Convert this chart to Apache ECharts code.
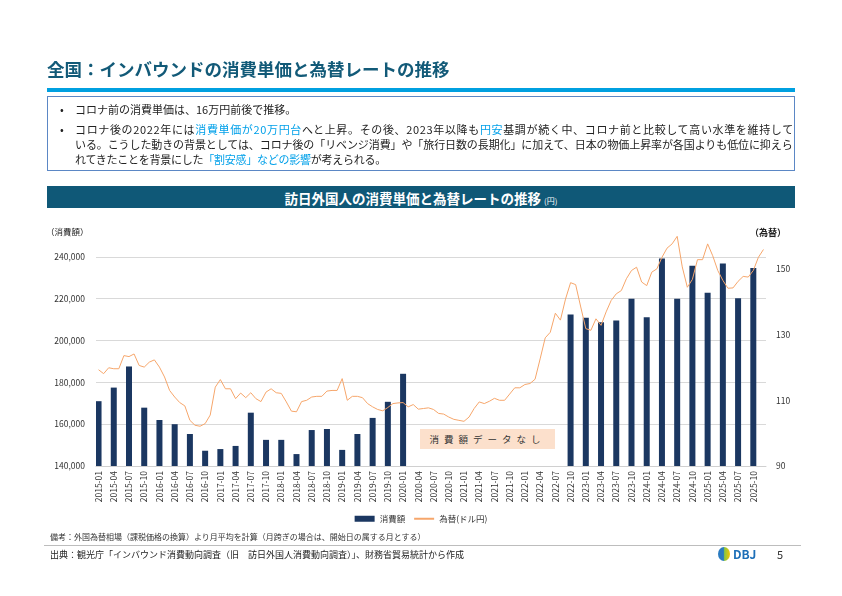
<!DOCTYPE html>
<html>
<head>
<meta charset="utf-8">
<script src="https://cdn.jsdelivr.net/npm/echarts@6/dist/echarts.min.js"></script>
<style>
  body { margin: 0; background: #fff; font-family: "Noto Sans CJK JP", sans-serif; color: #222; }
  #page { position: relative; width: 842px; height: 596px; overflow: hidden; }
  #main { position: absolute; left: 0; top: 0; width: 842px; height: 596px; }
  .abs { position: absolute; white-space: nowrap; }
  .hl { color: #00a0e9; }
</style>
</head>
<body>
<div id="page">
  <div id="main"></div>

  <div class="abs" style="left:47px;top:56px;font-size:17.5px;font-weight:bold;color:#125a78;">全国：インバウンドの消費単価と為替レートの推移</div>
  <div class="abs" style="left:47px;top:88px;width:748px;height:4px;background:#00a0e0;"></div>

  <div class="abs" style="left:47px;top:96px;width:746px;height:73px;border:1px solid #5b87c5;"></div>
  <div class="abs" style="left:60px;top:101px;font-size:11px;">•</div>
  <div class="abs" style="left:75px;top:101px;font-size:11px;">コロナ前の消費単価は、16万円前後で推移。</div>
  <div class="abs" style="left:60px;top:121px;font-size:11px;">•</div>
  <div class="abs" style="left:75px;top:121px;font-size:11px;letter-spacing:0.65px;">コロナ後の2022年には<span class="hl">消費単価が20万円台</span>へと上昇。その後、2023年以降も<span class="hl">円安</span>基調が続く中、コロナ前と比較して高い水準を維持して</div>
  <div class="abs" style="left:75px;top:136px;font-size:11px;letter-spacing:-0.1px;">いる。こうした動きの背景としては、コロナ後の「リベンジ消費」や「旅行日数の長期化」に加えて、日本の物価上昇率が各国よりも低位に抑えら</div>
  <div class="abs" style="left:75px;top:151px;font-size:11px;letter-spacing:-0.25px;">れてきたことを背景にした<span class="hl">「割安感」などの影響</span>が考えられる。</div>

  <div class="abs" style="left:47px;top:186px;width:748px;height:22px;background:#0f5877;"></div>
  <div class="abs" style="left:47px;top:188px;width:748px;text-align:center;color:#fff;font-size:13.5px;font-weight:bold;">訪日外国人の消費単価と為替レートの推移 <span style="font-size:8px;font-weight:normal;">(円)</span></div>

  <div class="abs" style="left:46px;top:225px;font-size:8.5px;">（消費額）</div>
  <div class="abs" style="left:750px;top:226px;font-size:9px;font-weight:bold;">（為替）</div>

  <div class="abs" style="left:420px;top:429px;width:135px;height:20px;background:#fce0cc;"></div>
  <div class="abs" style="left:420px;top:432px;width:135px;text-align:center;font-size:9.5px;letter-spacing:5px;color:#333;">消費額データなし</div>

  <div class="abs" style="left:50px;top:531px;font-size:8px;color:#333;">備考：外国為替相場（課税価格の換算）より月平均を計算（月跨ぎの場合は、開始日の属する月とする）</div>
  <div class="abs" style="left:44px;top:545px;width:757px;height:1px;background:#bdbdbd;"></div>
  <div class="abs" style="left:50px;top:548px;font-size:9px;color:#222;">出典：観光庁「インバウンド消費動向調査（旧　訪日外国人消費動向調査）」、財務省貿易統計から作成</div>
  <div class="abs" style="left:718px;top:547px;width:12px;height:14px;border-radius:50%;background:linear-gradient(90deg,#2a7bc0 0%,#2a7bc0 45%,#8cc63f 55%,#f2c500 100%);"></div>
  <div class="abs" style="left:733px;top:545px;font-size:12px;font-weight:bold;color:#1d6fb8;">DBJ</div>
  <div class="abs" style="left:777px;top:546px;font-size:11px;color:#333;">5</div>
</div>

<script>
// 月次カテゴリ (2015-01 ～ 2025-12)
var years = [2015, 2016, 2017, 2018, 2019, 2020, 2021, 2022, 2023, 2024, 2025];
var months = [];
for (var y = 0; y < years.length; y++) {
    for (var m = 1; m <= 12; m++) {
        months.push(years[y] + "-" + (m < 10 ? "0" + m : m));
    }
}

// 消費額（四半期：1,4,7,10月）
var spending = [
    171000, 177500, 187600, 167900,
    162000, 160000, 155300, 147300,
    148100, 149600, 165500, 152500,
    152500, 145700, 157200, 157700,
    147700, 155300, 163000, 170700,
    184100, null, null, null,
    null, null, null, null,
    null, null, null, 212400,
    210900, 208800, 209600, 220000,
    211100, 239200, 220000, 235800,
    222900, 236900, 220200, 234700
];

// 為替（ドル円・月平均）
var fx = [
    119.3, 118.1, 119.9, 119.6, 119.6, 123.6, 123.3, 124.1, 120.6, 120.1, 121.6, 122.3,
    120.1, 117.1, 113.0, 111.0, 109.3, 108.3, 103.9, 102.4, 102.1, 102.9, 105.5, 114.0,
    116.3, 113.5, 113.5, 110.5, 112.2, 110.8, 112.3, 110.5, 109.6, 112.5, 113.5, 112.3,
    112.1, 109.5, 106.7, 106.5, 109.6, 110.0, 111.0, 111.2, 111.2, 112.8, 113.0, 113.0,
    116.6, 110.0, 111.2, 111.2, 110.8, 109.0, 108.0, 107.2, 106.8, 107.8, 109.0, 109.2,
    109.3, 108.0, 108.7, 107.3, 107.5, 107.7, 107.2, 106.0, 105.8, 104.9, 104.2, 103.9,
    103.6, 104.9, 107.5, 109.5, 109.0, 109.7, 110.6, 110.0, 110.0, 111.9, 113.8, 113.8,
    114.8, 115.1, 116.4, 122.6, 129.0, 130.7, 136.5, 134.4, 140.8, 145.8, 145.2, 138.4,
    131.8, 131.3, 134.8, 132.8, 136.9, 140.4, 142.4, 143.4, 147.0, 149.5, 150.5, 146.0,
    144.9, 149.0, 150.0, 153.5, 156.3, 157.6, 159.9, 150.6, 144.4, 146.8, 152.8, 152.8,
    157.6, 154.0, 149.5, 146.5, 144.1, 144.2, 146.2, 147.7, 147.5, 149.5, 153.5, 155.9
];

// 四半期の値を月次の並びに載せる
var spendingMonthly = months.map(function (d, i) {
    return i % 3 === 0 ? spending[i / 3] : null;
});

var myChart = echarts.init(document.getElementById('main'));
var option = {
    animation: false,
    textStyle: { fontFamily: 'Noto Sans CJK JP' },
    grid: { left: 96, top: 236, width: 670, height: 230, containLabel: false },
    legend: {
        bottom: 68,
        left: 'center',
        itemGap: 8,
        itemWidth: 20,
        itemHeight: 6,
        textStyle: { fontSize: 8.5, color: '#333' },
        data: [
            { name: '消費額', icon: 'rect' },
            { name: '為替(ドル円)', itemStyle: { opacity: 0 } }
        ]
    },
    xAxis: {
        type: 'category',
        data: months,
        axisTick: { show: false },
        axisLine: { lineStyle: { color: '#d0d0d0' } },
        axisLabel: {
            interval: function (i) { return i % 3 === 0; },
            rotate: 90,
            fontSize: 8.5,
            color: '#333',
            margin: 5
        }
    },
    yAxis: [{
        type: 'value',
        min: 140000,
        max: 250000,
        interval: 20000,
        axisLine: { show: false },
        axisTick: { show: false },
        splitLine: { showMaxLine: false, lineStyle: { color: '#d9d9d9' } },
        axisLabel: {
            showMaxLabel: false,
            fontSize: 8.5,
            color: '#333',
            margin: 11,
            formatter: function (v) { return v.toLocaleString('en-US'); }
        }
    }, {
        type: 'value',
        min: 90,
        max: 160,
        interval: 20,
        axisLine: { show: false },
        axisTick: { show: false },
        splitLine: { show: false },
        axisLabel: { showMaxLabel: false, fontSize: 8.5, color: '#333', margin: 10 }
    }],
    series: [{
        name: '消費額',
        type: 'bar',
        data: spendingMonthly,
        barWidth: 6,
        itemStyle: { color: '#1b3761' }
    }, {
        name: '為替(ドル円)',
        type: 'line',
        yAxisIndex: 1,
        data: fx,
        symbol: 'none',
        clip: false,
        lineStyle: { color: '#f6a66b', width: 1 },
        itemStyle: { color: '#f6a66b' }
    }]
};
myChart.setOption(option);
</script>
</body>
</html>
